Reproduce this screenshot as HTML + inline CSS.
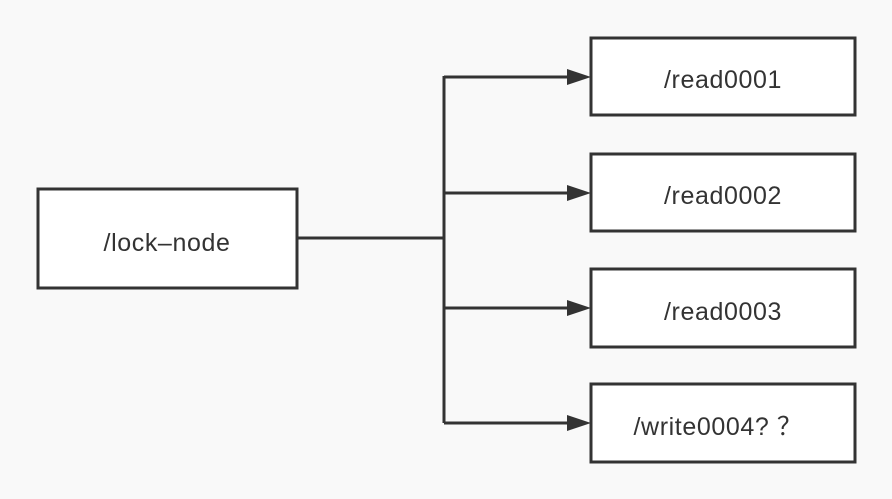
<!DOCTYPE html>
<html><head><style>
html,body{margin:0;padding:0;background:#f9f9f9;}
svg{display:block}
text{font-family:"Liberation Sans","Noto Sans CJK SC",sans-serif;font-size:25px;letter-spacing:0.6px;fill:#333}
</style></head><body>
<svg width="892" height="499" viewBox="0 0 892 499">
<rect width="892" height="499" fill="#f9f9f9"/>
<g fill="#fff" stroke="#333" stroke-width="3">
<rect x="38" y="189" width="259" height="99"/>
<rect x="591" y="38" width="264" height="77"/>
<rect x="591" y="154" width="264" height="77"/>
<rect x="591" y="269" width="264" height="78"/>
<rect x="591" y="384" width="264" height="78"/>
</g>
<g stroke="#333" stroke-width="3" fill="none">
<line x1="297" y1="238" x2="444" y2="238"/>
<line x1="444" y1="76" x2="444" y2="423"/>
<line x1="444" y1="77" x2="570" y2="77"/>
<line x1="444" y1="193" x2="570" y2="193"/>
<line x1="444" y1="308" x2="570" y2="308"/>
<line x1="444" y1="423" x2="570" y2="423"/>
</g>
<g fill="#333">
<polygon points="567,69 591,77 567,85"/>
<polygon points="567,185 591,193 567,201"/>
<polygon points="567,300 591,308 567,316"/>
<polygon points="567,415 591,423 567,431"/>
</g>
<g text-anchor="middle">
<text x="167" y="251">/lock–node</text>
<text x="723" y="88">/read0001</text>
<text x="723" y="204">/read0002</text>
<text x="723" y="320">/read0003</text>
<text x="718" y="435">/write0004? ？</text>
</g>
</svg>
</body></html>
